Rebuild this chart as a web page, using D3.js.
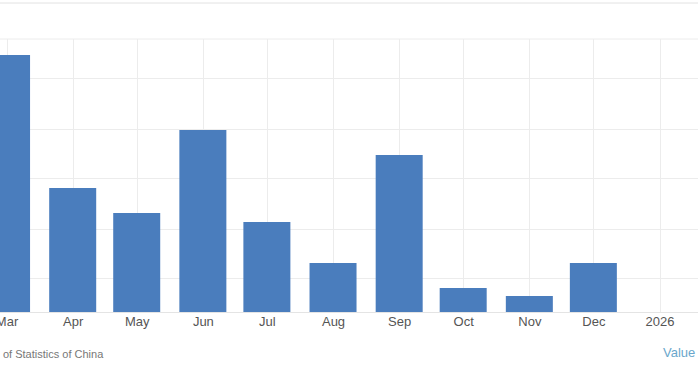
<!DOCTYPE html>
<html>
<head>
<meta charset="utf-8">
<script src="https://cdn.jsdelivr.net/npm/d3@7"></script>
<style>
  body { margin: 0; background: #fff; }
  svg { display: block; font-family: "Liberation Sans", Arial, sans-serif; }
</style>
</head>
<body>
<div id="chart"></div>
<script>
// month start dates of each bar (2025)
var months = ["2025-03-01", "2025-04-01", "2025-05-01", "2025-06-01", "2025-07-01",
              "2025-08-01", "2025-09-01", "2025-10-01", "2025-11-01", "2025-12-01"];
var values = [54.7, 28.1, 23.1, 39.7, 21.3, 13.1, 34.7, 8.1, 6.5, 13.1];

var tickDates = ["2025-03-01", "2025-04-01", "2025-05-01", "2025-06-01", "2025-07-01",
                 "2025-08-01", "2025-09-01", "2025-10-01", "2025-11-01", "2025-12-01", "2026-01-01"];
var tickLabels = ["Mar", "Apr", "May", "Jun", "Jul", "Aug", "Sep", "Oct", "Nov", "Dec", "2026"];
var gridDates = ["2025-02-01", "2025-03-01", "2025-04-01", "2025-05-01", "2025-06-01", "2025-07-01",
                 "2025-08-01", "2025-09-01", "2025-10-01", "2025-11-01", "2025-12-01",
                 "2026-01-01", "2026-02-01"];
var yTicks = [10, 20, 30, 40, 50];
var yMin = 3.3;

var W = 698, H = 367;
var parse = d3.timeParse("%Y-%m-%d");

var svg = d3.select("#chart").append("svg")
    .attr("width", W)
    .attr("height", H);

svg.append("rect").attr("width", W).attr("height", H).attr("fill", "#fff");

var x = d3.scaleTime()
    .domain([parse("2025-04-01"), parse("2026-01-01")])
    .range([72.7, 659.5]);

var y = d3.scaleLinear()
    .domain([yMin, yMin + 60])
    .range([312, 12]);

var plotTop = 39;
var barW = 47;

// top border
svg.append("line")
    .attr("x1", 0).attr("x2", W)
    .attr("y1", 3).attr("y2", 3)
    .attr("stroke", "#e2e2e2");

// plot top line
svg.append("line")
    .attr("x1", 0).attr("x2", W)
    .attr("y1", plotTop).attr("y2", plotTop)
    .attr("stroke", "#ececec");

// horizontal grid
svg.append("g")
    .selectAll("line")
    .data(yTicks)
    .enter()
    .append("line")
    .attr("x1", 0).attr("x2", W)
    .attr("y1", function(d) { return Math.round(y(d)) + 0.5; })
    .attr("y2", function(d) { return Math.round(y(d)) + 0.5; })
    .attr("stroke", "#ececec");

// vertical grid
svg.append("g")
    .selectAll("line")
    .data(gridDates)
    .enter()
    .append("line")
    .attr("x1", function(d) { return Math.round(x(parse(d))) + 0.5; })
    .attr("x2", function(d) { return Math.round(x(parse(d))) + 0.5; })
    .attr("y1", plotTop)
    .attr("y2", y(yMin))
    .attr("stroke", "#ececec");

// bars
svg.append("g")
    .selectAll("rect")
    .data(values)
    .enter()
    .append("rect")
    .attr("x", function(d, i) { return x(parse(months[i])) - barW / 2; })
    .attr("y", function(d) { return y(d); })
    .attr("width", barW)
    .attr("height", function(d) { return y(yMin) - y(d); })
    .attr("fill", "#4a7dbd");

// x axis
var xAxis = d3.axisBottom(x)
    .tickValues(tickDates.map(parse))
    .tickFormat(function(d, i) { return tickLabels[i]; })
    .tickSize(0)
    .tickPadding(5);

var gx = svg.append("g")
    .attr("transform", "translate(0," + y(yMin) + ")")
    .call(xAxis);
gx.select(".domain").remove();
gx.selectAll("text")
    .style("font-size", "13px")
    .attr("fill", "#555");

svg.append("line")
    .attr("x1", 0).attr("x2", W)
    .attr("y1", Math.round(y(yMin)) + 0.5).attr("y2", Math.round(y(yMin)) + 0.5)
    .attr("stroke", "#e4e4e4");

// footer
svg.append("text")
    .attr("x", 3)
    .attr("y", 358)
    .style("font-size", "11px")
    .attr("fill", "#777")
    .text("of Statistics of China");

svg.append("text")
    .attr("x", 663)
    .attr("y", 357)
    .style("font-size", "13px")
    .attr("fill", "#6aa7cc")
    .text("Value");
</script>
</body>
</html>
